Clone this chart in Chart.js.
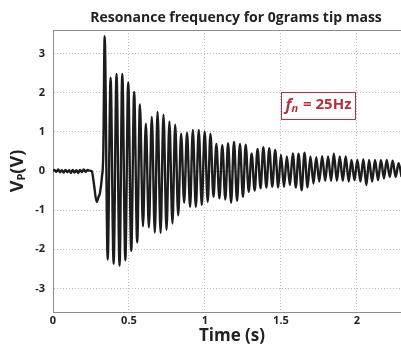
<!DOCTYPE html>
<html>
<head>
<meta charset="utf-8">
<script src="https://cdn.jsdelivr.net/npm/chart.js@4.4.1/dist/chart.umd.min.js"></script>
<style>
  html, body { margin: 0; padding: 0; background: #ffffff; }
</style>
</head>
<body>
<canvas id="resonanceChart" width="401" height="347"></canvas>
<script>
const CHART_TITLE = 'Resonance frequency for 0grams tip mass';
const X_TITLE = 'Time (s)';
const X_TICKS = [0, 0.5, 1, 1.5, 2];
const Y_TICKS = [-3, -2, -1, 0, 1, 2, 3];

// Lead-in before the tap: sensor noise, then the dip just before release
const leadTime = [0.000, 0.010, 0.022, 0.034, 0.046, 0.058, 0.070, 0.082, 0.094, 0.106,
  0.118, 0.130, 0.142, 0.154, 0.166, 0.178, 0.190, 0.202, 0.214, 0.226,
  0.238, 0.255, 0.270, 0.287, 0.300, 0.309, 0.322, 0.331];
const leadVolt = [0.00, 0.03, -0.02, 0.04, -0.03, 0.02, -0.04, 0.03, -0.03, 0.02,
  -0.05, 0.03, -0.04, 0.02, -0.05, 0.03, -0.03, 0.04, -0.02, 0.03,
  0.01, 0.00, -0.35, -0.79, -0.66, -0.56, -0.15, 0.46];

// Free vibration: one peak and one trough per cycle (~25 Hz)
const peakTime = [0.340, 0.379, 0.418, 0.456, 0.495, 0.534, 0.572, 0.611, 0.650, 0.688,
  0.727, 0.766, 0.804, 0.843, 0.882, 0.920, 0.959, 0.998, 1.036, 1.075,
  1.114, 1.152, 1.191, 1.230, 1.268, 1.307, 1.346, 1.384, 1.423, 1.462,
  1.500, 1.539, 1.578, 1.616, 1.655, 1.694, 1.732, 1.771, 1.810, 1.848,
  1.887, 1.926, 1.964, 2.003, 2.042, 2.080, 2.119, 2.158, 2.196, 2.235, 2.274];
const peakVolt = [3.44, 2.38, 2.48, 2.48, 2.26, 2.02, 1.70, 1.21, 1.38, 1.51,
  1.44, 1.26, 1.18, 0.95, 0.98, 1.05, 1.05, 1.01, 0.95, 0.69,
  0.66, 0.71, 0.75, 0.69, 0.67, 0.45, 0.56, 0.61, 0.58, 0.54,
  0.41, 0.37, 0.45, 0.44, 0.47, 0.37, 0.35, 0.38, 0.37, 0.45,
  0.37, 0.37, 0.28, 0.28, 0.30, 0.28, 0.28, 0.28, 0.28, 0.26, 0.20];
const troughTime = [0.360, 0.399, 0.438, 0.476, 0.515, 0.554, 0.592, 0.631, 0.670, 0.708,
  0.747, 0.786, 0.824, 0.863, 0.902, 0.940, 0.979, 1.018, 1.056, 1.095,
  1.134, 1.172, 1.211, 1.250, 1.288, 1.327, 1.366, 1.404, 1.443, 1.482,
  1.520, 1.559, 1.598, 1.636, 1.675, 1.714, 1.752, 1.791, 1.830, 1.868,
  1.907, 1.946, 1.984, 2.023, 2.062, 2.100, 2.139, 2.178, 2.216, 2.255, 2.294];
const troughVolt = [-2.26, -2.37, -2.42, -2.28, -2.04, -1.82, -1.41, -1.44, -1.57, -1.58,
  -1.50, -1.34, -1.13, -0.81, -0.92, -0.92, -0.87, -0.79, -0.66, -0.70,
  -0.73, -0.81, -0.76, -0.66, -0.53, -0.50, -0.44, -0.42, -0.40, -0.42,
  -0.40, -0.36, -0.42, -0.49, -0.42, -0.32, -0.27, -0.25, -0.25, -0.25,
  -0.25, -0.27, -0.23, -0.27, -0.36, -0.27, -0.23, -0.19, -0.15, -0.15, -0.15];

const FONT = "'Open Sans', 'DejaVu Sans', sans-serif";
const TEXT_COLOR = '#222222';
const NOTE_COLOR = '#b5303c';

// Merge the pieces into one time-ordered trace
const toPoints = (ts, vs) => ts.map((t, i) => ({ x: t, y: vs[i] }));
const trace = [
  ...toPoints(leadTime, leadVolt),
  ...toPoints(peakTime, peakVolt),
  ...toPoints(troughTime, troughVolt)
].sort((a, b) => a.x - b.x);

// Draws title, axis titles (y has a subscript), the f_n note and the top frame line
const textPlugin = {
  id: 'textPlugin',
  afterDraw(chart) {
    const { ctx, chartArea } = chart;
    ctx.save();

    ctx.strokeStyle = '#8c8c8c';
    ctx.lineWidth = 1;
    ctx.beginPath();
    ctx.moveTo(chartArea.left, chartArea.top + 0.5);
    ctx.lineTo(chartArea.right, chartArea.top + 0.5);
    ctx.stroke();

    ctx.fillStyle = TEXT_COLOR;
    ctx.textBaseline = 'middle';
    ctx.textAlign = 'center';
    ctx.font = `bold 14px ${FONT}`;
    ctx.fillText(CHART_TITLE, 236, 18);

    ctx.font = `bold 17px ${FONT}`;
    ctx.fillText(X_TITLE, 232, 336);

    // y title: V_P(V), rotated
    ctx.save();
    ctx.translate(18, 171);
    ctx.rotate(-Math.PI / 2);
    ctx.textAlign = 'left';
    const big = `bold 18px ${FONT}`;
    const small = `bold 11px ${FONT}`;
    ctx.font = big; const wV = ctx.measureText('V').width; const wRest = ctx.measureText('(V)').width;
    ctx.font = small; const wP = ctx.measureText('P').width;
    const x0 = -(wV + wP + wRest) / 2;
    ctx.font = big; ctx.fillText('V', x0, 0);
    ctx.font = small; ctx.fillText('P', x0 + wV, 4);
    ctx.font = big; ctx.fillText('(V)', x0 + wV + wP, 0);
    ctx.restore();

    // natural frequency note
    ctx.fillStyle = '#ffffff';
    ctx.fillRect(281, 92, 74, 27);
    ctx.strokeStyle = NOTE_COLOR;
    ctx.lineWidth = 1;
    ctx.strokeRect(281.5, 92.5, 74, 27);
    ctx.fillStyle = NOTE_COLOR;
    ctx.textAlign = 'left';
    const fBig = `italic bold 16px ${FONT}`;
    const fSub = `italic bold 11px ${FONT}`;
    const fRest = `bold 15px ${FONT}`;
    ctx.font = fBig; const wf = ctx.measureText('f').width;
    ctx.font = fSub; const wn = ctx.measureText('n').width;
    ctx.font = fRest; const wr = ctx.measureText(' = 25Hz').width;
    const nx = 318 - (wf + wn + wr) / 2;
    ctx.font = fBig; ctx.fillText('f', nx, 105);
    ctx.font = fSub; ctx.fillText('n', nx + wf, 109);
    ctx.font = fRest; ctx.fillText(' = 25Hz', nx + wf + wn + 1, 105);

    ctx.restore();
  }
};

const tickFont = { family: FONT, size: 11, weight: 'bold' };

new Chart(document.getElementById('resonanceChart'), {
  type: 'line',
  data: {
    datasets: [{
      data: trace,
      borderColor: '#1c1c1c',
      borderWidth: 2.4,
      pointRadius: 0,
      fill: false,
      cubicInterpolationMode: 'monotone'
    }]
  },
  options: {
    responsive: false,
    animation: false,
    events: [],
    layout: { padding: { top: 30, left: 0, right: 0, bottom: 0 } },
    plugins: {
      legend: { display: false },
      title: { display: false },
      tooltip: { enabled: false }
    },
    scales: {
      x: {
        type: 'linear',
        min: 0,
        max: 2.29,
        afterBuildTicks: scale => { scale.ticks = X_TICKS.map(v => ({ value: v })); },
        afterFit: scale => { scale.height = 35; },
        ticks: { color: TEXT_COLOR, font: tickFont, padding: 2, maxRotation: 0, callback: v => String(v) },
        grid: { color: '#bdbdbd', drawTicks: false },
        border: { color: '#8c8c8c', width: 1, dash: [1, 2] }
      },
      y: {
        type: 'linear',
        min: -3.6,
        max: 3.6,
        afterBuildTicks: scale => { scale.ticks = Y_TICKS.map(v => ({ value: v })); },
        afterFit: scale => { scale.width = 53; },
        ticks: { color: TEXT_COLOR, font: tickFont, padding: 8, callback: v => String(v) },
        grid: { color: '#bdbdbd', drawTicks: false },
        border: { color: '#8c8c8c', width: 1, dash: [1, 2] }
      }
    }
  },
  plugins: [textPlugin]
});
</script>
</body>
</html>
